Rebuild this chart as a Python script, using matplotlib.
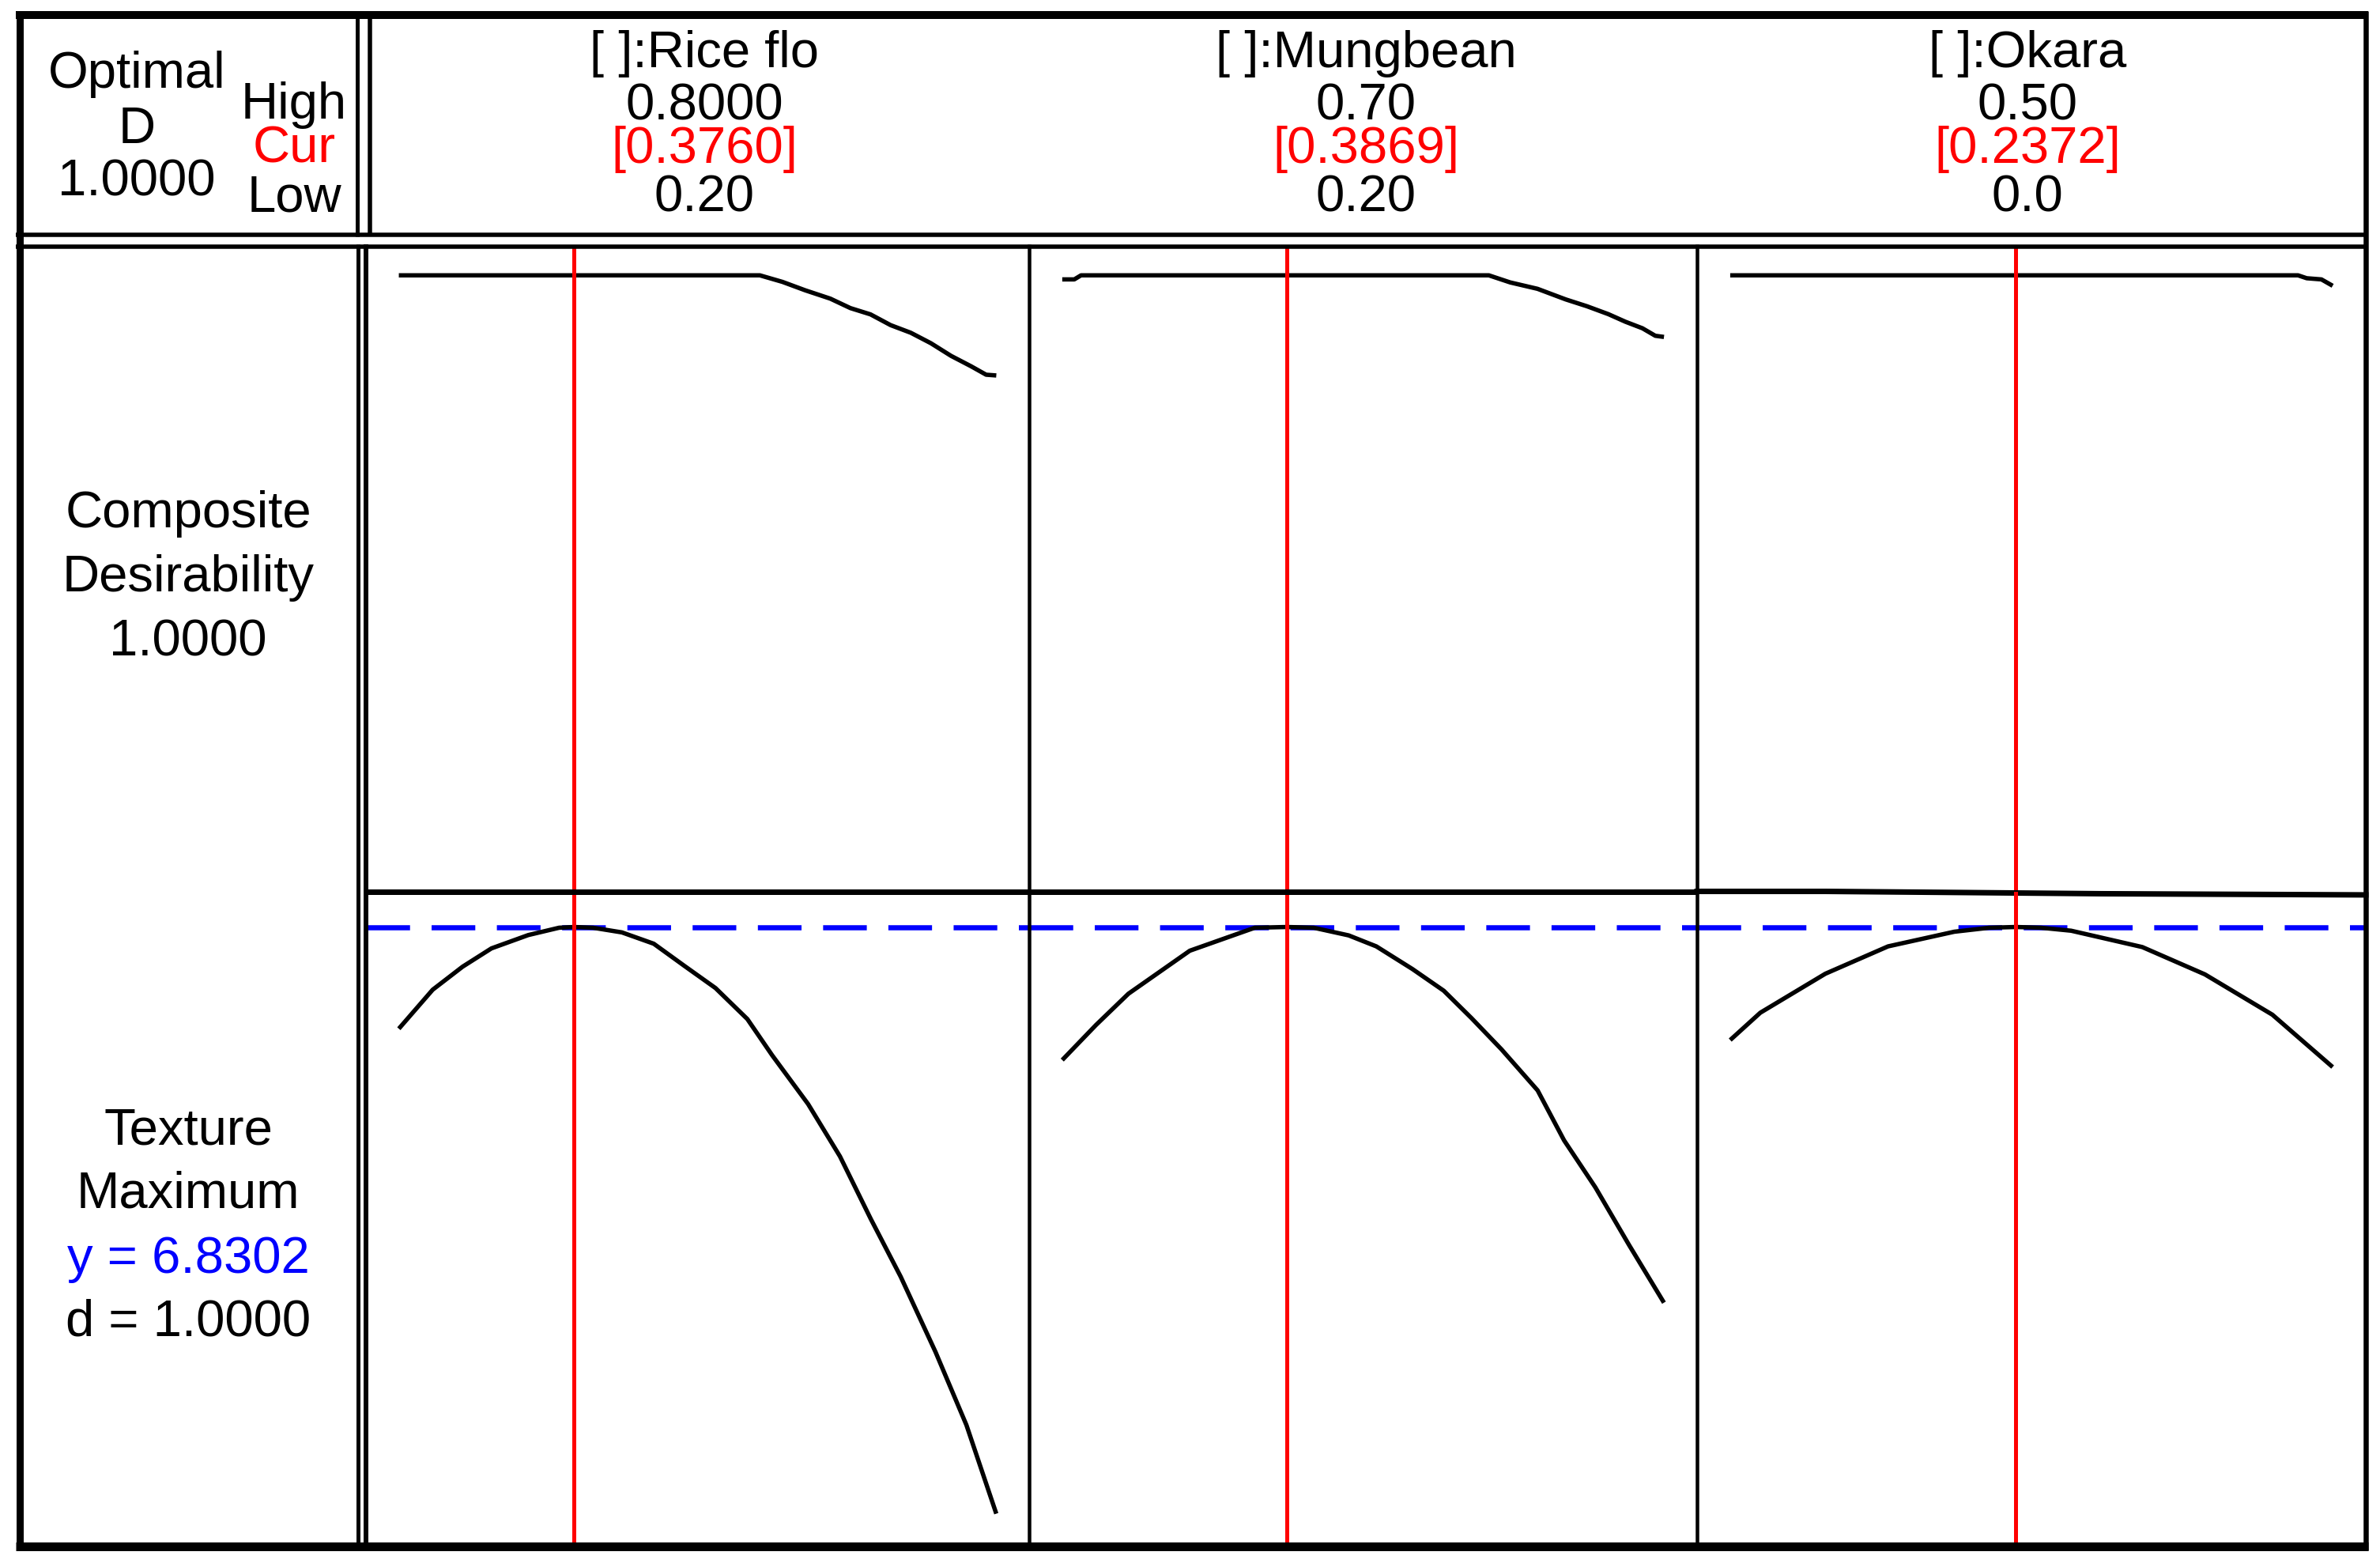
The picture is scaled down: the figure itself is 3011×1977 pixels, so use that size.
import numpy as np
import matplotlib.pyplot as plt
from matplotlib.lines import Line2D

W, H = 3011, 1977
DPI = 100

plt.rcParams['font.family'] = ['Liberation Sans', 'DejaVu Sans']
FS = 47

# factor settings shown in the header
factors = ["[ ]:Rice flo", "[ ]:Mungbean", "[ ]:Okara"]
high_txt = ["0.8000", "0.70", "0.50"]
cur_txt = ["[0.3760]", "[0.3869]", "[0.2372]"]
low_txt = ["0.20", "0.20", "0.0"]
lows = [0.20, 0.20, 0.0]
highs = [0.80, 0.70, 0.50]
current = [0.3760, 0.3869, 0.2372]
y_opt = 6.8302

# composite desirability traces (top row)
rice_d_x = [0.200, 0.5626, 0.5853, 0.6080, 0.6333, 0.6535, 0.6737, 0.6939, 0.7141, 0.7343, 0.7545, 0.7747, 0.7898, 0.800]
rice_d = [1.0, 1.0, 0.9887, 0.9743, 0.9599, 0.9436, 0.9328, 0.9143, 0.9012, 0.8832, 0.8615, 0.8435, 0.8290, 0.8277]
mung_d_x = [0.200, 0.210, 0.2156, 0.5545, 0.5722, 0.5949, 0.6183, 0.6360, 0.6538, 0.6679, 0.6821, 0.6928, 0.700]
mung_d = [0.993, 0.993, 1.0, 1.0, 0.9878, 0.9768, 0.9586, 0.9468, 0.9332, 0.9202, 0.9089, 0.8960, 0.894]
okara_d_x = [0.000, 0.4713, 0.4785, 0.4907, 0.500]
okara_d = [1.0, 1.0, 0.995, 0.993, 0.982]

# texture traces (bottom row)
rice_x = [0.200, 0.234, 0.264, 0.293, 0.330, 0.361, 0.3760, 0.395, 0.424, 0.456, 0.487, 0.518, 0.550,
          0.575, 0.611, 0.643, 0.674, 0.704, 0.739, 0.770, 0.800]
rice_y = [6.525, 6.642, 6.711, 6.766, 6.806, 6.828, 6.8302, 6.828, 6.814, 6.780, 6.713, 6.647, 6.554,
          6.445, 6.299, 6.142, 5.954, 5.781, 5.555, 5.336, 5.070]
mung_x = [0.200, 0.228, 0.255, 0.306, 0.360, 0.3869, 0.409, 0.438, 0.461, 0.491, 0.517, 0.540, 0.565,
          0.595, 0.617, 0.643, 0.671, 0.700]
mung_y = [6.431, 6.536, 6.630, 6.759, 6.828, 6.8302, 6.828, 6.805, 6.772, 6.704, 6.639, 6.557, 6.463,
          6.340, 6.190, 6.049, 5.876, 5.703]
okara_x = [0.000, 0.025, 0.079, 0.131, 0.186, 0.215, 0.2372, 0.258, 0.283, 0.342, 0.394, 0.450, 0.500]
okara_y = [6.491, 6.573, 6.690, 6.772, 6.816, 6.828, 6.8302, 6.828, 6.819, 6.770, 6.688, 6.567, 6.410]
# slightly sloping top edge over the Okara texture panel
okara_edge_x = [-0.0275, 0.079, 0.200, 0.308, 0.5275]
okara_edge_y = [6.937, 6.937, 6.9334, 6.930, 6.9265]

d_traces = [(rice_d_x, rice_d), (mung_d_x, mung_d), (okara_d_x, okara_d)]
t_traces = [(rice_x, rice_y), (mung_x, mung_y), (okara_x, okara_y)]
header_cx = [891, 1728, 2565]


def pt(px):
    return px * 72.0 / DPI


fig = plt.figure(figsize=(W / DPI, H / DPI), dpi=DPI)

cols = [(463, 1302), (1302, 2147), (2147, 2993)]
rows = [(311.5, 1127.5), (1127.5, 1955.5)]
m = 0.055

for i, (c0, c1) in enumerate(cols):
    lo, hi = lows[i], highs[i]
    r = hi - lo
    for j, (r0, r1) in enumerate(rows):
        ax = fig.add_axes([c0 / W, 1 - r1 / H, (c1 - c0) / W, (r1 - r0) / H])
        ax.set_axis_off()
        ax.set_xlim(lo - m * r, hi + m * r)
        if j == 0:
            ax.set_ylim(-0.06, 1.05)
            xs, ys = d_traces[i]
        else:
            ax.set_ylim(4.973, 6.937)
            xs, ys = t_traces[i]
            ax.axhline(y_opt, color='blue', lw=pt(6.5), linestyle=(0, (8.5, 4.2)))
            if i == 2:
                ax.plot(okara_edge_x, okara_edge_y, color='black', lw=pt(7), clip_on=False)
        ax.plot(xs, ys, color='black', lw=pt(5.5), solid_joinstyle='round', solid_capstyle='butt')
        ax.axvline(current[i], color='red', lw=pt(5))

    cx = header_cx[i]
    fig.text(cx / W, 1 - 85 / H, factors[i], ha='center', va='baseline', fontsize=FS)
    fig.text(cx / W, 1 - 151 / H, high_txt[i], ha='center', va='baseline', fontsize=FS)
    fig.text(cx / W, 1 - 206 / H, cur_txt[i], ha='center', va='baseline', fontsize=FS, color='red')
    fig.text(cx / W, 1 - 267 / H, low_txt[i], ha='center', va='baseline', fontsize=FS)


def hline(y, x0, x1, px):
    fig.add_artist(Line2D([x0 / W, x1 / W], [1 - y / H, 1 - y / H], transform=fig.transFigure,
                          color='black', lw=pt(px), solid_capstyle='butt'))


def vline(x, y0, y1, px):
    fig.add_artist(Line2D([x / W, x / W], [1 - y0 / H, 1 - y1 / H], transform=fig.transFigure,
                          color='black', lw=pt(px), solid_capstyle='butt'))


# frame
hline(19, 20, 2996, 10)
hline(1955.5, 20, 2996, 11)
vline(24.5, 14, 1961, 9)
vline(2993, 14, 1961, 6.5)
vline(452, 14, 299, 5)
vline(467.5, 14, 299, 5.5)
hline(296.5, 20, 2996, 5.5)
hline(311.5, 20, 2996, 5.5)
vline(452.5, 309, 1961, 5)
vline(463, 309, 1961, 6)
hline(1127.5, 463, 2147, 7)
vline(1302, 309, 1961, 4.5)
vline(2147, 309, 1961, 4.5)

# left column texts
fig.text(173 / W, 1 - 111 / H, "Optimal", ha='center', va='baseline', fontsize=FS)
fig.text(173 / W, 1 - 181 / H, "D", ha='center', va='baseline', fontsize=FS)
fig.text(173 / W, 1 - 247 / H, "1.0000", ha='center', va='baseline', fontsize=FS)
fig.text(372 / W, 1 - 150 / H, "High", ha='center', va='baseline', fontsize=FS)
fig.text(372 / W, 1 - 206 / H, "Cur", ha='center', va='baseline', fontsize=FS, color='red')
fig.text(372 / W, 1 - 267 / H, "Low", ha='center', va='baseline', fontsize=FS)

fig.text(238 / W, 1 - 667 / H, "Composite", ha='center', va='baseline', fontsize=FS)
fig.text(238 / W, 1 - 748 / H, "Desirability", ha='center', va='baseline', fontsize=FS)
fig.text(238 / W, 1 - 830 / H, "1.0000", ha='center', va='baseline', fontsize=FS)

fig.text(238 / W, 1 - 1447 / H, "Texture", ha='center', va='baseline', fontsize=FS)
fig.text(238 / W, 1 - 1527 / H, "Maximum", ha='center', va='baseline', fontsize=FS)
fig.text(238 / W, 1 - 1610 / H, "y = 6.8302", ha='center', va='baseline', fontsize=FS, color='blue')
fig.text(238 / W, 1 - 1690 / H, "d = 1.0000", ha='center', va='baseline', fontsize=FS)

fig.savefig("out.png", dpi=DPI)
